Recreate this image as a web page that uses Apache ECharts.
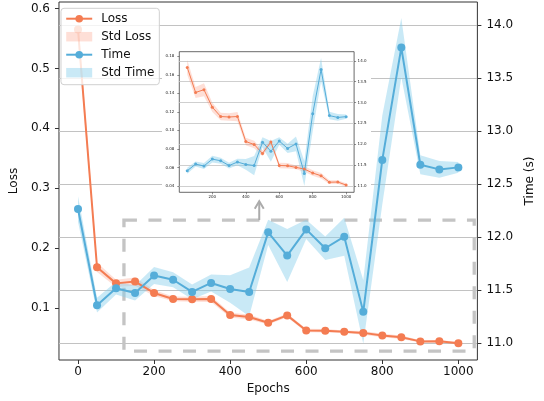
<!DOCTYPE html>
<html><head><meta charset="utf-8">
<script src="https://cdn.jsdelivr.net/npm/echarts@6/dist/echarts.min.js"></script>
<style>html,body{margin:0;padding:0;background:#fff}#c{width:544px;height:401px}</style>
</head><body><div id="c"></div>
<script>
// ---- data ----
const epochs   = [0,50,100,150,200,250,300,350,400,450,500,550,600,650,700,750,800,850,900,950,1000];
const lossMean = [0.565,0.168,0.141,0.144,0.125,0.115,0.1145,0.115,0.088,0.0848,0.0752,0.0875,0.0622,0.0618,0.0601,0.0583,0.054,0.0511,0.0441,0.0443,0.041];
const lossStd  = [0.018,0.008,0.006,0.007,0.005,0.004,0.004,0.005,0.004,0.004,0.003,0.003,0.003,0.003,0.002,0.003,0.003,0.003,0.002,0.002,0.002];
const timeMean = [12.267,11.36,11.52,11.475,11.64,11.6,11.485,11.57,11.513,11.485,12.047,11.828,12.075,11.897,12.006,11.297,12.73,13.79,12.685,12.641,12.66];
const timeStd  = [0.12,0.07,0.06,0.07,0.08,0.07,0.07,0.08,0.13,0.23,0.12,0.25,0.09,0.11,0.18,0.3,0.42,0.28,0.09,0.08,0.05];
const xTicks        = [0,200,400,600,800,1000];
const insetXTicks   = [200,400,600,800,1000];
const lossTicks     = [0.1,0.2,0.3,0.4,0.5,0.6];
const insetLossTicks= [0.04,0.06,0.08,0.10,0.12,0.14,0.16,0.18];
const timeTicks     = [11.0,11.5,12.0,12.5,13.0,13.5,14.0];
const zoomBox   = [[120.8,12.163],[1041.7,10.927]];   // dashed region (epoch, time)
const arrowPts  = [[476.5,12.163],[476.5,12.34]];     // arrow (epoch, time)

// ---- style ----
const ORANGE = '#F47C52', BLUE = '#55ADD9';
const ORANGE_F = 'rgba(250,140,110,0.28)', BLUE_F = 'rgba(135,206,235,0.45)';
const FONT = 'DejaVu Sans';
const pairs = (xs, ys) => xs.map((x,i)=>[x, ys[i]]);

function bandSeries(name, xs, mean, std, xi, yi, fill, z){
  const data = xs.map((x,i)=>[x, mean[i]-std[i], mean[i]+std[i]]);
  return {type:'custom', name:name, xAxisIndex:xi, yAxisIndex:yi, data:data, z:z, silent:true,
    color: fill, encode:{x:0, y:[1,2]}, emphasis:{disabled:true},
    renderItem:function(params, api){
      if (params.dataIndex !== 0) return null;
      const up = data.map(d=>api.coord([d[0], d[2]]));
      const dn = data.map(d=>api.coord([d[0], d[1]])).reverse();
      return {type:'polygon', shape:{points: up.concat(dn)}, style:{fill:fill, stroke:null}};
    }};
}
function lineSeries(name, xs, ys, xi, yi, color, lw, ss, z, extra){
  return Object.assign({type:'line', name:name, data: pairs(xs, ys), xAxisIndex:xi, yAxisIndex:yi,
    color: color, symbol:'circle', symbolSize: ss, showSymbol:true,
    lineStyle:{width:lw, color:color}, itemStyle:{color:color}, z:z, emphasis:{disabled:true}}, extra||{});
}

const ie = epochs.slice(1), iLoss = lossMean.slice(1), iLossStd = lossStd.slice(1),
      iTime = timeMean.slice(1), iTimeStd = timeStd.slice(1);

const axText = {fontFamily: FONT, fontSize: 12, color:'#111'};
const fmt0 = v => String(v), fmt1 = v => v.toFixed(1), fmt2 = v => v.toFixed(2);
const noLine = {show:false, onZero:false};

const option = {
  animation:false,
  backgroundColor:'#fff',
  grid:[
    {left:54.5, top:2, width:438.8, height:358, show:true, borderColor:'#333', borderWidth:1, backgroundColor:'transparent', z:0},
    {left:179.3, top:51.7, width:174.8, height:140.6, show:true, borderColor:'#444', borderWidth:0.8, backgroundColor:'transparent', z:6}
  ],
  xAxis:[
    {type:'value', gridIndex:0, min:-50, max:1050, name:'Epochs', nameLocation:'middle', nameGap:23,
     nameTextStyle:axText, axisLine:noLine, splitLine:{show:false},
     axisTick:{show:true, length:4, customValues:xTicks, lineStyle:{color:'#333'}},
     axisLabel:Object.assign({customValues:xTicks, margin:6, formatter:fmt0}, axText)},
    {type:'value', gridIndex:1, min:2.5, max:1047.5, z:6, axisLine:noLine, splitLine:{show:false},
     axisTick:{show:true, length:2, customValues:insetXTicks, lineStyle:{color:'#444', width:0.6}},
     axisLabel:{customValues:insetXTicks, margin:2.5, formatter:fmt0, fontFamily:FONT, fontSize:4, color:'#222'}}
  ],
  yAxis:[
    {type:'value', gridIndex:0, position:'left', min:0.013, max:0.611, name:'Loss', nameLocation:'middle', nameGap:33,
     nameTextStyle:axText, axisLine:noLine, splitLine:{show:false},
     axisTick:{show:true, length:4, customValues:lossTicks, lineStyle:{color:'#333'}},
     axisLabel:Object.assign({customValues:lossTicks, margin:9, formatter:fmt1}, axText)},
    {type:'value', gridIndex:0, position:'right', min:10.843, max:14.22, name:'Time (s)', nameLocation:'middle', nameGap:37,
     nameTextStyle:axText, axisLine:noLine,
     splitLine:{show:true, lineStyle:{color:'#c2c2c2', width:1}},
     axisTick:{show:true, length:4, customValues:timeTicks, lineStyle:{color:'#333'}},
     axisLabel:Object.assign({customValues:timeTicks, margin:9, formatter:fmt1}, axText)},
    {type:'value', gridIndex:1, position:'left', min:0.0332, max:0.185, z:6, axisLine:noLine, splitLine:{show:false},
     axisTick:{show:true, length:2, customValues:insetLossTicks, lineStyle:{color:'#444', width:0.6}},
     axisLabel:{customValues:insetLossTicks, margin:5, formatter:fmt2, fontFamily:FONT, fontSize:4, color:'#222'}},
    {type:'value', gridIndex:1, position:'right', min:10.843, max:14.22, z:6, axisLine:noLine,
     splitLine:{show:true, lineStyle:{color:'#cfcfcf', width:1}},
     axisTick:{show:true, length:2, customValues:timeTicks, lineStyle:{color:'#444', width:0.6}},
     axisLabel:{customValues:timeTicks, margin:3.5, formatter:fmt1, fontFamily:FONT, fontSize:4, color:'#222'}}
  ],
  legend:{
    left:61, top:8.3, orient:'vertical', z:20,
    backgroundColor:'rgba(255,255,255,0.8)', borderColor:'#d0d0d0', borderWidth:1, borderRadius:3,
    padding:[3.4,5,5,4.2], itemWidth:26, itemHeight:9.5, itemGap:4,
    textStyle:{fontFamily:FONT, fontSize:12, color:'#111', lineHeight:14, padding:[0,0,0,4]},
    data:[
      {name:'Loss'},
      {name:'Std Loss', icon:'rect', itemStyle:{color:ORANGE_F}},
      {name:'Time'},
      {name:'Std Time', icon:'rect', itemStyle:{color:BLUE_F}}
    ]
  },
  series:[
    bandSeries('Std Loss', epochs, lossMean, lossStd, 0, 0, ORANGE_F, 2),
    lineSeries('Loss', epochs, lossMean, 0, 0, ORANGE, 2, 8, 2),
    bandSeries('Std Time', epochs, timeMean, timeStd, 0, 1, BLUE_F, 2),
    lineSeries('Time', epochs, timeMean, 0, 1, BLUE, 2, 8, 2, {
      markArea:{silent:true, label:{show:false},
        itemStyle:{color:'rgba(0,0,0,0)', borderColor:'#c4c4c4', borderWidth:3.3, borderType:[13,11.5]},
        data:[[{coord:zoomBox[0]},{coord:zoomBox[1]}]]}
    }),
    bandSeries('iStd Loss', ie, iLoss, iLossStd, 1, 2, ORANGE_F, 7),
    lineSeries('iLoss', ie, iLoss, 1, 2, ORANGE, 1, 3, 7),
    bandSeries('iStd Time', ie, iTime, iTimeStd, 1, 3, BLUE_F, 7),
    lineSeries('iTime', ie, iTime, 1, 3, BLUE, 1, 3, 7)
  ]
};

const chart = echarts.init(document.getElementById('c'), null, {renderer:'canvas'});
chart.setOption(option);

const a0 = chart.convertToPixel({xAxisIndex:0, yAxisIndex:1}, arrowPts[0]);
const a1 = chart.convertToPixel({xAxisIndex:0, yAxisIndex:1}, arrowPts[1]);
chart.setOption({
  graphic:[
    {type:'rect', z:5, silent:true, shape:{x:162, y:44, width:209, height:159}, style:{fill:'#fff'}},
    {type:'line', z:8, silent:true, shape:{x1:a0[0], y1:a0[1], x2:a1[0], y2:a1[1]+1}, style:{stroke:'#ababab', lineWidth:2}},
    {type:'polyline', z:8, silent:true, shape:{points:[[a1[0]-4.5, a1[1]+7.5],[a1[0], a1[1]],[a1[0]+4.5, a1[1]+7.5]]},
     style:{stroke:'#ababab', lineWidth:2, fill:null}}
  ]
});
</script>
</body></html>
